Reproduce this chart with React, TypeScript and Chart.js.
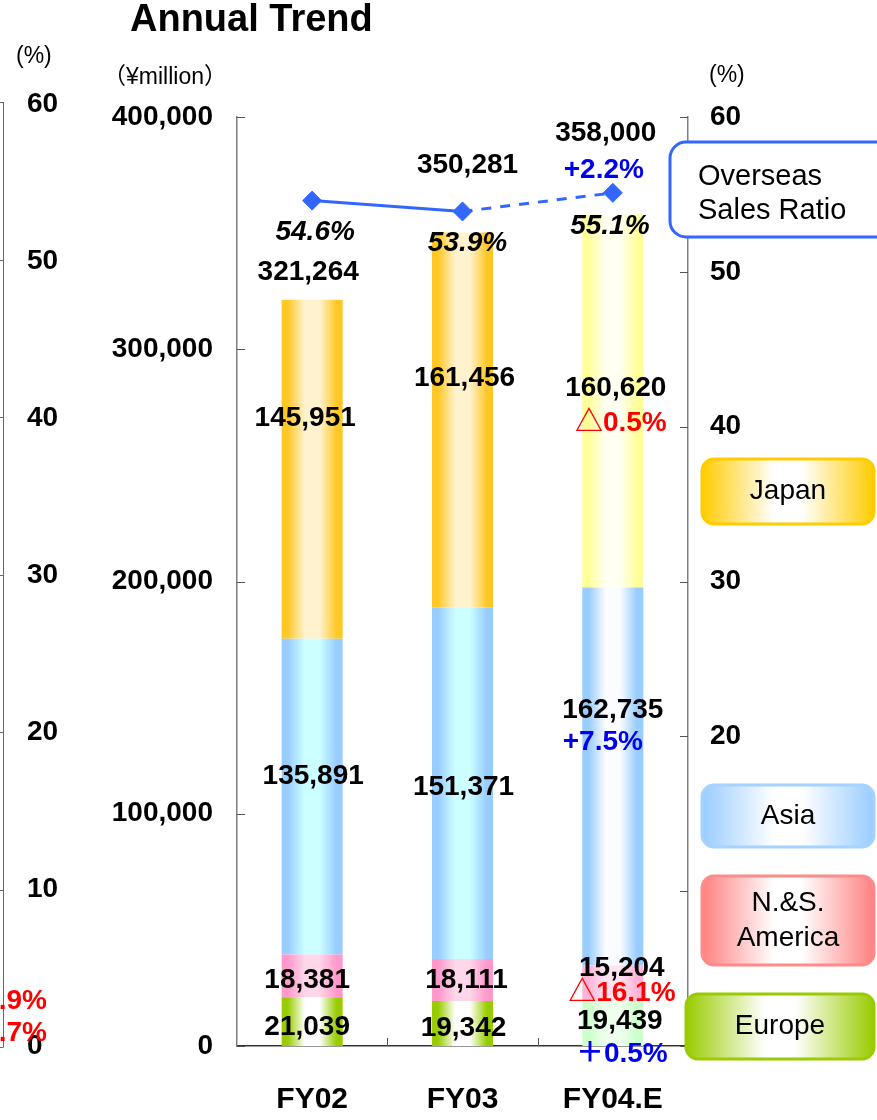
import React, { useEffect, useRef } from 'react';
import { Chart, registerables } from 'chart.js';

Chart.register(...registerables);

// ---------------- data ----------------
const categories = ['FY02', 'FY03', 'FY04.E'];
const europeSales = [21039, 19342, 19439];
const americaSales = [18381, 18111, 15204];
const asiaSales = [135891, 151371, 162735];
const japanSales = [145951, 161456, 160620];
const totalSales = [321264, 350281, 358000];
const overseasRatio = [54.6, 53.9, 55.1];
const totalChange = ['', '', '+2.2%'];
const japanChange = ['', '', '△0.5%'];
const asiaChange = ['', '', '+7.5%'];
const americaChange = ['', '', '△16.1%'];
const europeChange = ['', '', '＋0.5%'];
const salesTicks = [0, 100000, 200000, 300000, 400000];
const ratioTicks = [0, 10, 20, 30, 40, 50, 60];
const neighbourTicks = ['60', '50', '40', '30', '20', '10', '0'];
const neighbourChanges = ['.9%', '.7%'];

// ---------------- layout & style ----------------
const W = 877;
const H = 1120;
const BAR_PCT = 0.406;
const FONT = '"Liberation Sans", Arial, Helvetica, "Noto Sans CJK JP", sans-serif';
const BOLD28 = `bold 28px ${FONT}`;
const RED = '#FF0000';
const BLUE = '#0000F0';
const LINE_BLUE = '#3366FF';

const japanEdge = ['#FFC726', '#FFC726', '#FFFF99'];
const japanCenter = ['#FFF3CF', '#FFF3CF', '#FFFFF2'];
const asiaEdge = ['#99CCFF', '#99CCFF', '#99CCFF'];
const asiaCenter = ['#CCFFFF', '#CCFFFF', '#FAFCFF'];
const americaEdge = ['#FF99CC', '#FF99CC', '#FFB3D6'];
const americaCenter = ['#FFD6EA', '#FFD6EA', '#FFE3F0'];
const europeEdge = ['#99CC00', '#99CC00', '#CCFFCC'];
const europeCenter = ['#FFFFFF', '#FFFFFF', '#EEFFEE'];

// label anchors (left-axis value units) and horizontal nudges (px)
const labelRows = [
  { texts: totalSales.map((v) => v.toLocaleString('en-US')), at: [333262, 379333, 393111], dx: [-4, 5, -7] },
  { texts: totalChange, at: [0, 0, 377180], dx: [0, 0, -9] },
  { texts: overseasRatio.map((v) => v.toFixed(1) + '%'), at: [350484, 345748, 353068], dx: [3, 5, -3], italic: true },
  { texts: japanSales.map((v) => v.toLocaleString('en-US')), at: [270398, 287621, 283315], dx: [-7, 2, 3] },
  { texts: japanChange, at: [0, 0, 268245], dx: [0, 0, 8] },
  { texts: asiaSales.map((v) => v.toLocaleString('en-US')), at: [116254, 111518, 144672], dx: [1, 1, 0] },
  { texts: asiaChange, at: [0, 0, 130893], dx: [0, 0, -10] },
  { texts: americaSales.map((v) => v.toLocaleString('en-US')), at: [28418, 28418, 33585], dx: [-5, 4, 9] },
  { texts: americaChange, at: [0, 0, 22820], dx: [0, 0, 9] },
  { texts: europeSales.map((v) => v.toLocaleString('en-US')), at: [8181, 7750, 10764], dx: [-5, 1, 7] },
  { texts: europeChange, at: [0, 0, -3444], dx: [0, 0, 9] },
];

const legendBoxes = [
  { lines: ['Japan'], x: 702, y: 459, w: 172, h: 65, edge: '#FFCC00', border: '#FFCC00' },
  { lines: ['Asia'], x: 702, y: 785, w: 172, h: 62, edge: '#99CCFF', border: '#A6D2FF' },
  { lines: ['N.&S.', 'America'], x: 702, y: 876, w: 172, h: 89, edge: '#FF8080', border: '#FF8A8A' },
  { lines: ['Europe'], x: 686, y: 994, w: 188, h: 65, edge: '#99CC00', border: '#99CC00' },
];

function barGradient(edges: string[], centers: string[]) {
  return (c: any) => {
    const chart = c.chart;
    const i = c.dataIndex ?? 0;
    const xs = chart.scales?.x;
    if (!chart.chartArea || !xs) return edges[i];
    const cx = xs.getPixelForValue(i);
    const half = ((xs.width / categories.length) * BAR_PCT) / 2;
    const g = chart.ctx.createLinearGradient(cx - half, 0, cx + half, 0);
    g.addColorStop(0, edges[i]);
    g.addColorStop(0.1, edges[i]);
    g.addColorStop(0.38, centers[i]);
    g.addColorStop(0.62, centers[i]);
    g.addColorStop(0.9, edges[i]);
    g.addColorStop(1, edges[i]);
    return g;
  };
}

function text(ctx: CanvasRenderingContext2D, s: string, x: number, y: number, font: string, color: string, align: CanvasTextAlign = 'center') {
  ctx.save();
  ctx.font = font;
  ctx.fillStyle = color;
  ctx.textAlign = align;
  ctx.textBaseline = 'middle';
  ctx.fillText(s, x, y);
  ctx.restore();
}

const decorPlugin = {
  id: 'decor',
  afterDatasetsDraw(chart: any) {
    const ctx: CanvasRenderingContext2D = chart.ctx;
    const xs = chart.scales.x;
    const ys = chart.scales.y;
    labelRows.forEach((row: any) => {
      row.texts.forEach((t: string, i: number) => {
        if (!t) return;
        const x = xs.getPixelForValue(i) + row.dx[i];
        const y = ys.getPixelForValue(row.at[i]);
        let color = '#000';
        if (t.startsWith('△')) color = RED;
        else if (t.startsWith('+') || t.startsWith('＋')) color = BLUE;
        const font = row.italic ? `italic bold 28px ${FONT}` : BOLD28;
        text(ctx, t, x, y, font, color);
      });
    });
  },
  afterDraw(chart: any) {
    const ctx: CanvasRenderingContext2D = chart.ctx;
    const area = chart.chartArea;
    const xs = chart.scales.x;
    const ys = chart.scales.y;
    const y2 = chart.scales.y2;

    // inward tick marks
    ctx.save();
    ctx.strokeStyle = '#555';
    ctx.lineWidth = 1;
    salesTicks.forEach((v) => {
      const p = Math.round(ys.getPixelForValue(v)) + 0.5;
      ctx.beginPath();
      ctx.moveTo(area.left, p);
      ctx.lineTo(area.left + 8, p);
      ctx.stroke();
    });
    ratioTicks.forEach((v) => {
      const p = Math.round(y2.getPixelForValue(v)) + 0.5;
      ctx.beginPath();
      ctx.moveTo(area.right - 8, p);
      ctx.lineTo(area.right, p);
      ctx.stroke();
    });
    for (let i = 1; i < categories.length; i++) {
      const p = Math.round((xs.getPixelForValue(i - 1) + xs.getPixelForValue(i)) / 2) + 0.5;
      ctx.beginPath();
      ctx.moveTo(p, area.bottom - 8);
      ctx.lineTo(p, area.bottom);
      ctx.stroke();
    }
    ctx.restore();

    // title and units
    text(ctx, 'Annual Trend', 130, 21, `bold 38px ${FONT}`, '#000', 'left');
    text(ctx, '（¥million）', 103, 78, `23px ${FONT}`, '#000', 'left');
    text(ctx, '(%)', 709, 76, `23px ${FONT}`, '#000', 'left');

    // neighbouring chart's cropped axis at the far left
    ctx.save();
    ctx.strokeStyle = '#666';
    ctx.lineWidth = 1;
    ctx.beginPath();
    ctx.moveTo(3.5, 102);
    ctx.lineTo(3.5, 1047);
    ctx.stroke();
    neighbourTicks.forEach((t, k) => {
      const p = Math.round(102 + (k * 945) / 6) + 0.5;
      ctx.beginPath();
      ctx.moveTo(0, p);
      ctx.lineTo(3.5, p);
      ctx.stroke();
      text(ctx, t, 27, 104 + (k * 942) / 6, BOLD28, '#000', 'left');
    });
    ctx.restore();
    text(ctx, '(%)', 16, 57, `23px ${FONT}`, '#000', 'left');
    neighbourChanges.forEach((t, k) => text(ctx, t, 47, 1001 + k * 32, BOLD28, RED, 'right'));

    // overseas ratio label box
    ctx.save();
    ctx.beginPath();
    (ctx as any).roundRect(670, 142, 230, 95, 16);
    ctx.fillStyle = '#fff';
    ctx.fill();
    ctx.lineWidth = 3;
    ctx.strokeStyle = LINE_BLUE;
    ctx.stroke();
    ctx.restore();
    text(ctx, 'Overseas', 698, 177, `29px ${FONT}`, '#000', 'left');
    text(ctx, 'Sales Ratio', 698, 211, `29px ${FONT}`, '#000', 'left');

    // region legend boxes
    legendBoxes.forEach((b) => {
      ctx.save();
      const g = ctx.createLinearGradient(b.x, 0, b.x + b.w, 0);
      g.addColorStop(0, b.edge);
      g.addColorStop(0.42, '#FFFFFF');
      g.addColorStop(0.58, '#FFFFFF');
      g.addColorStop(1, b.edge);
      ctx.beginPath();
      (ctx as any).roundRect(b.x, b.y, b.w, b.h, 12);
      ctx.fillStyle = g;
      ctx.fill();
      ctx.lineWidth = 3;
      ctx.strokeStyle = b.border;
      ctx.stroke();
      ctx.restore();
      const cx = b.x + b.w / 2;
      const lh = 35;
      const y0 = b.y + b.h / 2 - ((b.lines.length - 1) * lh) / 2;
      b.lines.forEach((l, k) => text(ctx, l, cx, y0 + k * lh, `28px ${FONT}`, '#000'));
    });
  },
};

export default function App() {
  const ref = useRef<HTMLCanvasElement | null>(null);
  useEffect(() => {
    if (!ref.current) return;
    const chart = new Chart(ref.current, {
      data: {
        labels: categories,
        datasets: [
          {
            type: 'line' as const,
            label: 'Overseas Sales Ratio',
            data: overseasRatio,
            yAxisID: 'y2',
            order: 0,
            borderColor: LINE_BLUE,
            backgroundColor: LINE_BLUE,
            borderWidth: 3,
            pointStyle: 'rectRot',
            pointRadius: 9.5,
            pointBorderWidth: 1,
            pointBackgroundColor: LINE_BLUE,
            pointBorderColor: LINE_BLUE,
            tension: 0,
            segment: {
              borderDash: (c: any) => (c.p0DataIndex >= 1 ? [10, 9] : undefined),
            },
          },
          { type: 'bar' as const, label: 'Europe', data: europeSales, yAxisID: 'y', order: 1, backgroundColor: barGradient(europeEdge, europeCenter), borderWidth: 0 },
          { type: 'bar' as const, label: 'N.&S. America', data: americaSales, yAxisID: 'y', order: 1, backgroundColor: barGradient(americaEdge, americaCenter), borderWidth: 0 },
          { type: 'bar' as const, label: 'Asia', data: asiaSales, yAxisID: 'y', order: 1, backgroundColor: barGradient(asiaEdge, asiaCenter), borderWidth: 0 },
          { type: 'bar' as const, label: 'Japan', data: japanSales, yAxisID: 'y', order: 1, backgroundColor: barGradient(japanEdge, japanCenter), borderWidth: 0 },
        ],
      } as any,
      options: {
        animation: false,
        responsive: false,
        devicePixelRatio: 1,
        layout: { padding: { top: 117, left: 0, right: 0, bottom: 0 } },
        datasets: { bar: { barPercentage: BAR_PCT, categoryPercentage: 1 } },
        plugins: { legend: { display: false }, tooltip: { enabled: false }, title: { display: false } },
        scales: {
          x: {
            stacked: true,
            grid: { display: false, drawTicks: false },
            border: { display: true, color: '#333', width: 1.5 },
            ticks: { color: '#000', font: { family: FONT, size: 30, weight: 'bold' }, padding: 36, maxRotation: 0 },
            afterFit: (s: any) => { s.height = H - 1046; },
          },
          y: {
            stacked: true,
            position: 'left',
            min: 0,
            max: 400000,
            afterBuildTicks: (s: any) => { s.ticks = salesTicks.map((v) => ({ value: v })); },
            ticks: { color: '#000', font: { family: FONT, size: 28, weight: 'bold' }, padding: 24, callback: (v: any) => Number(v).toLocaleString('en-US') },
            grid: { display: false, drawTicks: false },
            border: { display: true, color: '#808080', width: 1.5 },
            afterFit: (s: any) => { s.width = 237; },
          },
          y2: {
            position: 'right',
            min: 0,
            max: 60,
            afterBuildTicks: (s: any) => { s.ticks = ratioTicks.map((v) => ({ value: v })); },
            ticks: { color: '#000', font: { family: FONT, size: 28, weight: 'bold' }, padding: 22 },
            grid: { display: false, drawTicks: false },
            border: { display: true, color: '#808080', width: 1.5 },
            afterFit: (s: any) => { s.width = W - 688; },
          },
        },
      } as any,
      plugins: [decorPlugin],
    });
    return () => chart.destroy();
  }, []);

  return (
    <div style={{ position: 'absolute', left: 0, top: 0, width: W, height: H, background: '#fff' }}>
      <canvas ref={ref} width={W} height={H} style={{ display: 'block' }} />
    </div>
  );
}
